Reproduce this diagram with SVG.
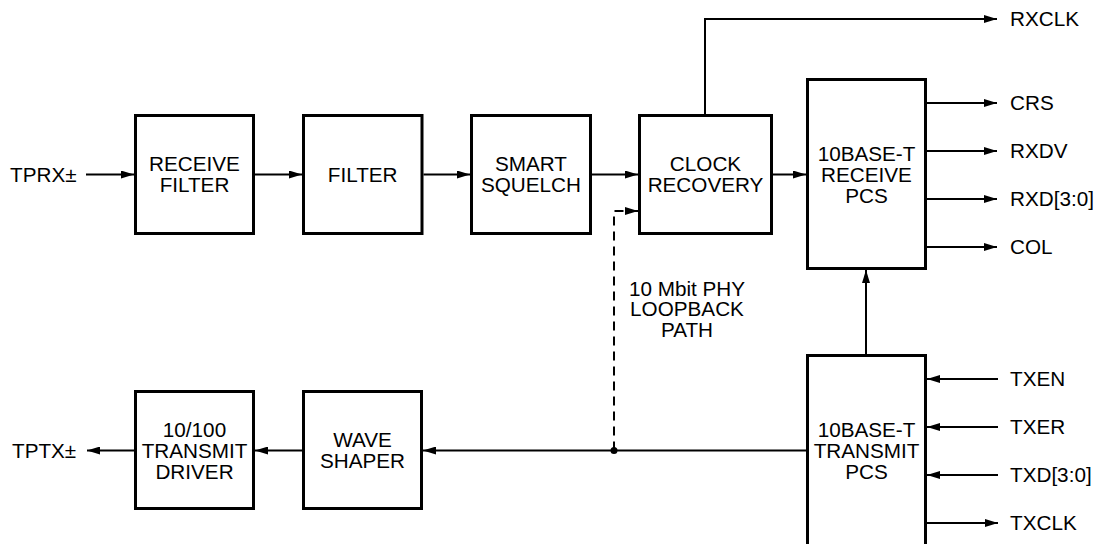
<svg xmlns="http://www.w3.org/2000/svg" width="1097" height="544" viewBox="0 0 1097 544">
<style>
.box{fill:#fff;stroke:#000;stroke-width:3}
.t{font-family:"Liberation Sans",Arial,sans-serif;font-size:20.7px;fill:#000}
.c{text-anchor:middle}
.w{fill:none;stroke:#000;stroke-width:2}
.d{stroke-dasharray:9,6}
</style>
<defs>
<marker id="ah" viewBox="0 0 13 8" refX="13" refY="4" markerWidth="13" markerHeight="8" markerUnits="userSpaceOnUse" orient="auto">
<path d="M0,0 L13,4 L0,8 z" fill="#000"/>
</marker>
</defs>
<rect width="1097" height="544" fill="#fff"/>
<g id="connectors">
<path class="w" d="M86,174.5 H134" marker-end="url(#ah)"/>
<path class="w" d="M255,174.5 H302" marker-end="url(#ah)"/>
<path class="w" d="M423.5,174.5 H470" marker-end="url(#ah)"/>
<path class="w" d="M592,174.5 H638" marker-end="url(#ah)"/>
<path class="w" d="M773,174.5 H806" marker-end="url(#ah)"/>
<path class="w" d="M705,114 V19 H997" marker-end="url(#ah)"/>
<path class="w" d="M927,103 H997" marker-end="url(#ah)"/>
<path class="w" d="M927,151 H997" marker-end="url(#ah)"/>
<path class="w" d="M927,199 H997" marker-end="url(#ah)"/>
<path class="w" d="M927,247 H997" marker-end="url(#ah)"/>
<path class="w" d="M866,354 V270" marker-end="url(#ah)"/>
<path class="w" d="M998,379 H927" marker-end="url(#ah)"/>
<path class="w" d="M998,427 H927" marker-end="url(#ah)"/>
<path class="w" d="M998,475 H927" marker-end="url(#ah)"/>
<path class="w" d="M927,523 H998" marker-end="url(#ah)"/>
<path class="w" d="M806,450.5 H423" marker-end="url(#ah)"/>
<path class="w" d="M302,450.5 H255" marker-end="url(#ah)"/>
<path class="w" d="M134,450.5 H87" marker-end="url(#ah)"/>
<path class="w d" d="M614,450.5 V211 H638" marker-end="url(#ah)"/>
<circle cx="614" cy="450.5" r="3.5" fill="#000"/>
</g>
<g id="tprx"><text class="t" x="10" y="182">TPRX±</text></g>
<g id="tptx"><text class="t" x="12" y="458">TPTX±</text></g>
<g id="receive-filter">
<rect class="box" x="135.5" y="115.5" width="118" height="118"/>
<text class="t c" x="194.5" y="171.2">RECEIVE</text>
<text class="t c" x="194.5" y="192">FILTER</text>
</g>
<g id="filter">
<rect class="box" x="303.5" y="115.5" width="118.5" height="118"/>
<text class="t c" x="362.7" y="181.9">FILTER</text>
</g>
<g id="smart-squelch">
<rect class="box" x="471.5" y="115.5" width="119" height="118"/>
<text class="t c" x="531" y="171.2">SMART</text>
<text class="t c" x="531" y="192">SQUELCH</text>
</g>
<g id="clock-recovery">
<rect class="box" x="639.5" y="115.5" width="132" height="118"/>
<text class="t c" x="705.5" y="171.2">CLOCK</text>
<text class="t c" x="705.5" y="192">RECOVERY</text>
</g>
<g id="rx-pcs">
<rect class="box" x="807.5" y="79.5" width="118" height="189"/>
<text class="t c" x="866.5" y="160.6">10BASE-T</text>
<text class="t c" x="866.5" y="181.8">RECEIVE</text>
<text class="t c" x="866.5" y="203">PCS</text>
</g>
<g id="tx-pcs">
<rect class="box" x="807.5" y="355.5" width="118" height="200"/>
<text class="t c" x="866.5" y="436.5">10BASE-T</text>
<text class="t c" x="866.5" y="457.5">TRANSMIT</text>
<text class="t c" x="866.5" y="478.5">PCS</text>
</g>
<g id="transmit-driver">
<rect class="box" x="135.5" y="391.5" width="118" height="117"/>
<text class="t c" x="194.5" y="437">10/100</text>
<text class="t c" x="194.5" y="458">TRANSMIT</text>
<text class="t c" x="194.5" y="479">DRIVER</text>
</g>
<g id="wave-shaper">
<rect class="box" x="303.5" y="391.5" width="118" height="117"/>
<text class="t c" x="362.5" y="446.5">WAVE</text>
<text class="t c" x="362.5" y="467.5">SHAPER</text>
</g>
<g id="loopback-label">
<text class="t c" x="687" y="295.5">10 Mbit PHY</text>
<text class="t c" x="687" y="316.3">LOOPBACK</text>
<text class="t c" x="687" y="337.2">PATH</text>
</g>
<g id="signals">
<text class="t" x="1010" y="26.4">RXCLK</text>
<text class="t" x="1010" y="110.4">CRS</text>
<text class="t" x="1010" y="158.4">RXDV</text>
<text class="t" x="1010" y="206.4">RXD[3:0]</text>
<text class="t" x="1010" y="254.4">COL</text>
<text class="t" x="1010" y="386.4">TXEN</text>
<text class="t" x="1010" y="434.4">TXER</text>
<text class="t" x="1010" y="482.4">TXD[3:0]</text>
<text class="t" x="1010" y="530.4">TXCLK</text>
</g>
</svg>
